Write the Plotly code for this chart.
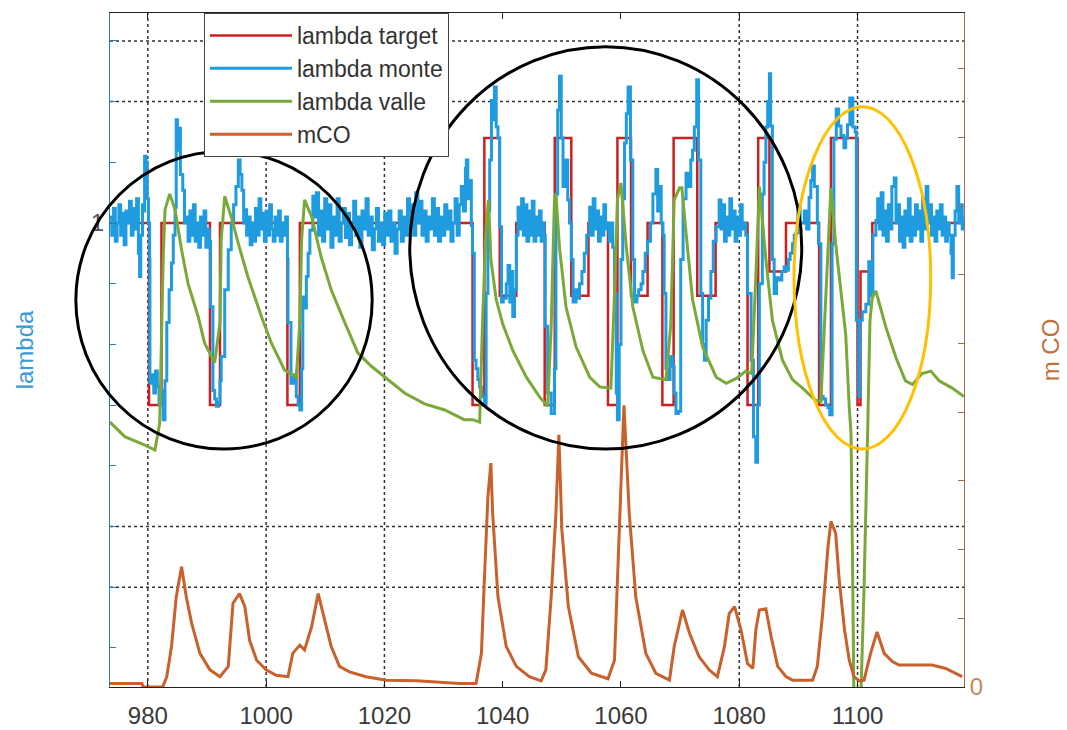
import plotly.graph_objects as go

# ---------------- data ----------------
target_x = [973.6, 980.2, 982.3, 990.5, 992.2, 1003.6, 1005.7, 1034.9, 1036.9, 1039.5, 1042.3,
            1047.1, 1048.8, 1051.6, 1054.5, 1057.8, 1059.4, 1061.7, 1064.5, 1067.0, 1068.9,
            1072.9, 1076.0, 1081.4, 1083.2, 1085.1, 1087.9, 1093.5, 1095.5, 1100.0, 1100.5,
            1102.5, 1118.0]
target_y = [1.0, 0.85, 1.0, 0.85, 1.0, 0.85, 1.0, 0.85, 1.07, 0.94, 1.0,
            0.85, 1.07, 0.94, 1.0, 0.85, 1.07, 0.94, 1.0, 0.85, 1.07,
            0.94, 1.0, 0.85, 1.07, 0.96, 1.0, 0.85, 1.07, 0.85, 0.96,
            1.0, 1.0]

monte_x = [973.6, 973.9, 974.2, 974.5, 974.8, 975.1, 975.4, 975.7, 976.0, 976.3, 976.6, 976.9,
           977.2, 977.5, 977.8, 978.1, 978.4, 978.6, 978.8, 979.1, 979.3, 979.45, 979.7, 979.9,
           980.1, 980.3, 980.35, 980.7, 981.0, 981.3, 981.6, 981.9, 982.2, 982.6, 982.9, 983.2,
           983.6, 984.0, 984.3, 984.6, 984.8, 985.0, 985.2, 985.5, 985.9, 986.2, 986.5, 986.8,
           987.1, 987.4, 987.7, 988.0, 988.3, 988.6, 988.9, 989.2, 989.5, 989.8, 990.1, 990.4,
           990.6, 991.0, 991.3, 991.6, 991.9, 992.2, 992.4, 993.0, 993.6, 994.1, 994.5, 994.9,
           995.3, 995.6, 995.9, 996.2, 996.4, 996.7, 997.0, 997.3, 997.6, 997.9, 998.2, 998.5,
           998.8, 999.1, 999.4, 999.7, 1000.0, 1000.3, 1000.6, 1000.9, 1001.2, 1001.5, 1001.8,
           1002.1, 1002.4, 1002.7, 1003.0, 1003.3, 1003.6, 1003.7, 1004.2, 1004.6, 1005.1,
           1005.4, 1005.7, 1006.0, 1006.2, 1006.5, 1006.8, 1007.1, 1007.4, 1007.9, 1008.2,
           1008.5, 1008.85, 1009.2, 1009.55, 1009.9, 1010.25, 1010.6, 1010.95, 1011.3, 1011.65,
           1012.0, 1012.35, 1012.7, 1013.05, 1013.4, 1013.75, 1014.1, 1014.45, 1014.8, 1015.15,
           1015.5, 1015.85, 1016.2, 1016.55, 1016.9, 1017.25, 1017.6, 1017.95, 1018.3, 1018.65,
           1019.0, 1019.35, 1019.7, 1020.05, 1020.4, 1020.75, 1021.1, 1021.45, 1021.8, 1022.15,
           1022.5, 1022.85, 1023.2, 1023.55, 1023.9, 1024.25, 1024.6, 1024.95, 1025.3, 1025.65,
           1026.0, 1026.35, 1026.7, 1027.05, 1027.4, 1027.75, 1028.1, 1028.45, 1028.8, 1029.15,
           1029.5, 1029.85, 1030.2, 1030.55, 1030.9, 1031.25, 1031.6, 1031.95, 1032.3, 1032.65,
           1033.0, 1033.35, 1033.7, 1033.85, 1034.1, 1034.4, 1034.7, 1034.9, 1035.2, 1035.5,
           1035.8, 1036.1, 1036.4, 1036.9, 1037.2, 1037.5, 1037.8, 1038.1, 1038.3, 1038.6,
           1038.9, 1039.2, 1039.5, 1039.8, 1040.1, 1040.6, 1040.9, 1041.2, 1041.4, 1041.7,
           1042.0, 1042.3, 1042.6, 1042.9, 1043.2, 1043.5, 1043.8, 1044.1, 1044.4, 1044.7,
           1045.0, 1045.3, 1045.6, 1045.9, 1046.2, 1046.5, 1046.8, 1047.0, 1047.2, 1047.6,
           1048.2, 1048.75, 1049.0, 1049.3, 1049.6, 1049.9, 1050.2, 1050.5, 1050.7, 1051.0,
           1051.3, 1051.6, 1051.9, 1052.4, 1052.7, 1053.0, 1053.4, 1053.8, 1054.2, 1054.7,
           1055.0, 1055.3, 1055.6, 1055.9, 1056.2, 1056.5, 1056.8, 1057.1, 1057.4, 1057.7,
           1058.0, 1058.3, 1058.6, 1058.9, 1059.2, 1059.4, 1059.7, 1060.0, 1060.3, 1060.6,
           1060.9, 1061.2, 1061.6, 1062.0, 1062.3, 1062.7, 1063.0, 1063.4, 1063.7, 1064.1,
           1064.5, 1065.0, 1065.4, 1065.9, 1066.2, 1066.5, 1066.8, 1067.1, 1067.3, 1067.6,
           1067.9, 1068.3, 1068.7, 1069.0, 1069.3, 1069.7, 1070.1, 1070.5, 1071.0, 1071.4,
           1071.8, 1072.1, 1072.4, 1072.8, 1073.1, 1073.5, 1073.8, 1074.1, 1074.4, 1074.8,
           1075.2, 1075.6, 1076.1, 1076.6, 1076.9, 1077.2, 1077.5, 1077.8, 1078.1, 1078.4,
           1078.7, 1079.0, 1079.3, 1079.6, 1079.9, 1080.2, 1080.5, 1080.8, 1081.1, 1081.4,
           1082.0, 1082.4, 1082.8, 1083.1, 1083.4, 1083.9, 1084.2, 1084.5, 1084.8, 1085.1,
           1085.3, 1085.6, 1085.9, 1086.3, 1086.8, 1087.2, 1087.6, 1087.9, 1088.3, 1088.6,
           1089.0, 1089.3, 1089.6, 1089.9, 1090.3, 1090.7, 1091.0, 1091.4, 1091.8, 1092.1,
           1092.4, 1092.7, 1092.9, 1093.2, 1093.4, 1093.8, 1094.2, 1094.6, 1095.0, 1095.3,
           1095.7, 1096.0, 1096.4, 1096.8, 1097.2, 1097.7, 1098.0, 1098.3, 1098.7, 1099.2,
           1099.6, 1099.8, 1100.2, 1100.4, 1100.8, 1101.4, 1101.9, 1102.2, 1102.6, 1103.1,
           1103.4, 1103.7, 1104.0, 1104.3, 1104.6, 1104.9, 1105.2, 1105.5, 1105.8, 1106.2,
           1106.5, 1106.8, 1107.1, 1107.4, 1107.7, 1108.0, 1108.3, 1108.6, 1108.9, 1109.2,
           1109.5, 1109.8, 1110.1, 1110.4, 1110.7, 1111.0, 1111.3, 1111.6, 1111.9, 1112.2,
           1112.5, 1112.8, 1113.1, 1113.4, 1113.7, 1114.0, 1114.3, 1114.6, 1114.9, 1115.2,
           1115.5, 1115.8, 1116.0, 1116.2, 1116.5, 1116.8, 1117.1, 1117.4, 1117.7, 1118.0]
monte_y = [1.005, 0.99, 1.012, 0.985, 1.0, 1.015, 0.99, 1.008, 0.982, 1.01, 1.0, 1.018,
           0.99, 1.012, 0.995, 1.02, 0.975, 0.956, 0.99, 1.015, 1.01, 1.055, 1.05, 1.02,
           1.0, 0.97, 0.868, 0.875, 0.86, 0.878, 0.865, 0.85, 0.862, 0.838, 0.87, 0.918,
           0.945, 0.967, 0.99, 1.013, 1.085, 1.06, 1.078, 1.04, 1.027, 1.0, 1.005, 0.985,
           1.01, 0.99, 1.015, 0.985, 1.0, 0.98, 1.005, 0.99, 1.01, 0.98, 0.995, 0.985,
           0.931, 0.862, 0.855, 0.849, 0.852, 0.87, 0.89, 0.945, 0.978, 1.0, 1.015, 1.03,
           1.052, 1.04, 1.027, 1.0, 1.011, 0.99, 1.005, 0.982, 1.0, 0.985, 1.012, 0.99,
           1.02, 0.995, 1.008, 0.985, 1.01, 0.99, 1.015, 0.995, 0.985, 1.005, 0.99,
           1.01, 0.985, 1.0, 0.99, 1.005, 0.97, 0.918, 0.868, 0.875, 0.857,
           0.85, 0.846, 0.88, 0.939, 0.93, 0.956, 0.975, 0.994, 1.022, 1.005,
           1.025, 0.99, 1.01, 0.985, 1.02, 0.995, 1.015, 0.98, 1.005, 0.99,
           1.02, 0.985, 1.0, 1.012, 0.988, 1.008, 0.982, 1.0, 1.018, 0.99,
           1.005, 0.98, 1.01, 0.995, 1.02, 0.99, 1.005, 0.978, 0.995, 1.012,
           0.985, 1.0, 0.982, 1.008, 0.99, 1.01, 0.985, 1.0, 0.975, 0.995,
           1.01, 0.985, 1.005, 0.99, 1.02, 0.995, 1.015, 0.99, 1.025, 1.0,
           1.018, 0.99, 1.01, 0.985, 1.005, 0.995, 1.02, 0.99, 1.012, 0.985,
           1.005, 0.99, 1.015, 0.995, 1.01, 0.985, 1.0, 1.02, 0.99, 1.015,
           1.03, 1.01, 1.045, 1.052, 1.02, 1.035, 0.998, 0.975, 0.887, 0.88,
           0.871, 0.865, 0.857, 0.851, 0.942, 1.01, 1.052, 1.101, 1.085, 1.112,
           1.079, 1.07, 0.997, 0.935, 0.938, 0.95, 0.965, 0.935, 0.96, 0.923,
           0.945, 0.99, 1.013, 0.995, 1.02, 0.99, 1.015, 0.985, 1.01, 0.99,
           1.018, 0.985, 1.005, 0.99, 1.01, 0.985, 1.0, 0.99, 0.915, 0.86,
           0.843, 0.88, 1.024, 1.093, 1.121, 1.07, 1.03, 1.045, 1.052, 1.019,
           1.0, 0.97, 0.935, 0.945, 0.938, 0.95, 0.96, 0.975, 0.99, 1.013,
           0.99, 1.02, 0.995, 1.01, 0.985, 1.005, 0.99, 1.015, 0.995, 1.0,
           0.985, 1.0, 0.98, 0.942, 0.86, 0.838, 0.9, 0.97, 1.02, 1.066,
           1.09, 1.112, 1.052, 0.97, 0.935, 0.94, 0.945, 0.95, 0.96, 0.975,
           0.985, 1.0, 1.024, 1.044, 1.01, 1.03, 1.0, 0.99, 0.942, 0.88,
           0.871, 0.89, 0.882, 0.86, 0.843, 0.845, 0.97, 1.02, 1.041, 1.03,
           1.052, 1.06, 1.079, 1.118, 1.052, 0.942, 0.9, 0.887, 0.92, 0.938,
           0.96, 0.985, 0.997, 1.019, 0.995, 1.015, 0.985, 1.005, 0.99, 1.02,
           0.995, 1.01, 0.985, 1.005, 0.99, 1.015, 0.995, 1.0, 0.99, 0.942,
           0.887, 0.824, 0.803, 0.85, 0.95, 1.024, 1.05, 1.079, 1.1, 1.123,
           1.08, 0.97, 0.942, 0.955, 0.953, 0.96, 0.964, 0.961, 0.97, 0.975,
           0.983, 0.99, 0.992, 1.015, 1.0, 1.0, 1.01, 0.995, 1.021, 1.035,
           1.047, 1.03, 1.03, 1.0, 0.983, 0.857, 0.855, 0.85, 0.848, 0.842,
           0.983, 1.069, 1.094, 1.08, 1.072, 1.062, 1.07, 1.081, 1.103, 1.079,
           1.075, 0.92, 0.857, 0.92, 0.927, 0.933, 0.968, 0.94, 0.99, 1.002,
           1.02, 0.995, 1.025, 0.99, 1.01, 0.985, 1.015, 0.995, 1.03, 1.037,
           1.0, 1.015, 0.985, 1.005, 0.98, 1.01, 0.99, 1.02, 0.985, 1.005,
           0.99, 1.015, 0.995, 1.01, 0.985, 1.02, 0.995, 1.03, 1.0, 1.015,
           0.99, 1.005, 0.985, 1.01, 0.995, 1.015, 0.99, 1.005, 0.985, 1.0,
           0.99, 0.975, 0.955, 0.99, 1.01, 1.03, 1.0, 1.015, 0.995, 1.005]

valle_x = [973.6, 976.1, 979.5, 981.2, 982.0, 982.3, 982.6, 982.9, 983.7, 984.6, 985.7, 986.8,
           988.5, 989.6, 991.3, 992.2, 992.4, 993.0, 994.1, 995.3, 996.9, 999.2, 1000.9, 1003.1,
           1005.1, 1005.7, 1006.0, 1006.5, 1007.7, 1009.3, 1011.0, 1013.3, 1015.5, 1017.8,
           1020.6, 1023.4, 1026.8, 1030.2, 1033.5, 1034.95, 1036.1, 1036.6, 1037.2, 1037.6,
           1038.0, 1038.9, 1040.0, 1041.7, 1044.0, 1046.2, 1047.6, 1048.2, 1048.75, 1049.0,
           1049.6, 1050.7, 1052.4, 1054.7, 1056.4, 1058.3, 1058.9, 1059.4, 1060.0, 1060.9,
           1062.0, 1063.7, 1065.4, 1067.6, 1068.4, 1069.0, 1069.9, 1070.3, 1071.0, 1072.1,
           1073.8, 1076.1, 1077.8, 1079.5, 1081.1, 1082.1, 1082.8, 1083.4, 1084.5, 1085.6,
           1087.3, 1089.0, 1090.7, 1092.9, 1093.8, 1094.4, 1095.0, 1095.5, 1096.3, 1097.2,
           1098.0, 1098.6, 1098.9, 1099.2, 1099.4, 1100.5, 1101.1, 1101.7, 1102.1, 1102.5,
           1103.1, 1104.8, 1106.5, 1108.1, 1109.3, 1110.9, 1112.4, 1113.8, 1116.0, 1118.0]
valle_y = [0.836, 0.824, 0.817, 0.813, 0.835, 0.918, 0.972, 1.011, 1.024, 1.011, 0.978, 0.95,
           0.923, 0.901, 0.885, 0.918, 0.986, 1.022, 1.005, 0.983, 0.956, 0.923, 0.901, 0.879,
           0.873, 0.918, 0.986, 1.019, 1.005, 0.972, 0.945, 0.918, 0.893, 0.882,
           0.871, 0.86, 0.851, 0.846, 0.838, 0.838, 0.836, 0.92, 0.997, 1.019,
           0.97, 0.937, 0.917, 0.895, 0.873, 0.857, 0.849, 0.915, 1.019, 1.024,
           0.98, 0.931, 0.898, 0.873, 0.865, 0.864, 0.942, 1.019, 1.033, 0.98,
           0.931, 0.895, 0.873, 0.871, 0.915, 1.019, 1.029, 1.029, 0.992, 0.937,
           0.898, 0.873, 0.868, 0.872, 0.878, 0.876, 0.956, 1.03, 0.97, 0.92,
           0.887, 0.871, 0.864, 0.854, 0.853, 0.92, 0.983, 1.029, 0.983, 0.946,
           0.908, 0.848, 0.826, 0.70, 0.60, 0.60, 0.70, 0.826, 0.92, 0.939,
           0.944, 0.914, 0.889, 0.87, 0.867, 0.876, 0.878, 0.87, 0.864, 0.857]

mco_x = [973.6, 979.0, 979.2, 982.5, 983.2, 984.0, 984.8, 985.7, 986.5, 987.4, 988.8, 990.5,
         992.2, 993.6, 994.4, 995.5, 996.4, 997.2, 998.4, 1000.0, 1001.7, 1003.7, 1004.5,
         1005.7, 1006.5, 1007.7, 1008.8, 1009.9, 1011.0, 1012.4, 1014.1, 1016.9, 1020.3,
         1025.4, 1032.7, 1035.5, 1036.4, 1036.9, 1037.5, 1038.0, 1038.3, 1039.2, 1040.6,
         1042.3, 1044.5, 1046.5, 1047.3, 1048.2, 1049.0, 1049.5, 1050.0, 1051.1, 1052.8,
         1055.0, 1057.8, 1058.9, 1059.4, 1060.0, 1060.5, 1061.4, 1062.5, 1064.2, 1065.9,
         1068.2, 1069.0, 1070.4, 1071.6, 1073.2, 1074.9, 1076.3, 1077.5, 1078.3, 1079.2,
         1080.3, 1081.4, 1082.3, 1082.8, 1083.4, 1084.5, 1085.4, 1086.5, 1087.9, 1089.0,
         1092.4, 1093.2, 1094.1, 1095.0, 1095.5, 1096.3, 1096.9, 1097.8, 1098.6, 1099.4,
         1100.3, 1101.1, 1102.2, 1103.3, 1104.5, 1105.9, 1107.0, 1112.6, 1114.9, 1117.7]
mco_y = [0.05, 0.05, 0.0, 0.0, 0.15, 0.59, 1.31, 1.75, 1.31, 0.93, 0.49, 0.25,
         0.15, 0.30, 1.22, 1.36, 1.17, 0.68, 0.39, 0.25, 0.17, 0.15, 0.49,
         0.61, 0.54, 0.88, 1.36, 0.98, 0.59, 0.30, 0.22, 0.15, 0.10,
         0.09, 0.05, 0.05, 0.49, 1.56, 2.77, 3.26, 2.53, 1.31, 0.59,
         0.30, 0.15, 0.09, 0.25, 1.31, 2.53, 3.67, 2.29, 1.17, 0.44,
         0.20, 0.12, 0.39, 1.56, 3.01, 4.10, 2.53, 1.31, 0.49, 0.20,
         0.10, 0.59, 1.12, 0.78, 0.44, 0.25, 0.15, 0.59, 1.07, 1.17,
         0.83, 0.34, 0.27, 0.83, 1.12, 1.14, 0.73, 0.30, 0.15, 0.10,
         0.10, 0.30, 1.07, 2.04, 2.41, 2.24, 1.56, 0.83, 0.39, 0.15,
         0.09, 0.10, 0.49, 0.80, 0.49, 0.37, 0.32, 0.32, 0.27, 0.15]

x_ticks = [980, 1000, 1020, 1040, 1060, 1080, 1100]
lambda_ticks = [0.65, 0.70, 0.75, 0.80, 0.85, 0.90, 0.95, 1.00, 1.05, 1.10, 1.15]
lambda_ticktext = ["", "", "", "", "", "", "", "1", "", "", ""]
mco_ticks = [0, 1, 2, 3, 4, 5, 6, 7, 8, 9]
mco_ticktext = ["0", "", "", "", "", "", "", "", "", ""]
grid_x = [980, 1000, 1020, 1080, 1100]
grid_lambda = [0.70, 0.75, 1.10, 1.15]

# highlight ellipses (paper coordinates): x0, x1, y0, y1, colour
highlights = [(-0.040, 0.307, 0.353, 0.795, "#000000"),
              (0.351, 0.810, 0.353, 0.950, "#000000"),
              (0.801, 0.961, 0.353, 0.861, "#ffc000")]

RED, BLUE, GREEN, ORANGE = "#cc1f1f", "#1f9be0", "#7aa93a", "#c8612c"
FONT = "Liberation Sans, Arial, sans-serif"

fig = go.Figure()
fig.add_trace(go.Scatter(x=target_x, y=target_y, name="lambda target", mode="lines",
                         line=dict(color=RED, width=2.5, shape="hv")))
fig.add_trace(go.Scatter(x=monte_x, y=monte_y, name="lambda monte", mode="lines",
                         line=dict(color=BLUE, width=3, shape="hv")))
fig.add_trace(go.Scatter(x=valle_x, y=valle_y, name="lambda valle", mode="lines",
                         line=dict(color=GREEN, width=3)))
fig.add_trace(go.Scatter(x=mco_x, y=mco_y, name="mCO", mode="lines", yaxis="y2",
                         line=dict(color=ORANGE, width=3)))

shapes = []
for gx in grid_x:
    shapes.append(dict(type="line", xref="x", yref="paper", x0=gx, x1=gx, y0=0, y1=1,
                       line=dict(color="#333333", width=1.5, dash="dot"), layer="below"))
for gy in grid_lambda:
    shapes.append(dict(type="line", xref="paper", yref="y", x0=0, x1=1, y0=gy, y1=gy,
                       line=dict(color="#333333", width=1.5, dash="dot"), layer="below"))
for x0, x1, y0, y1, col in highlights:
    shapes.append(dict(type="circle", xref="paper", yref="paper", x0=x0, x1=x1, y0=y0, y1=y1,
                       line=dict(color=col, width=3), layer="above"))

fig.update_layout(
    width=1067, height=730,
    margin=dict(l=110, r=103, t=13, b=43, autoexpand=False),
    paper_bgcolor="white", plot_bgcolor="white",
    font=dict(family=FONT, size=22, color="#3a3a3a"),
    showlegend=True,
    legend=dict(x=0.110, y=1.0, xanchor="left", yanchor="top",
                bgcolor="white", bordercolor="#444444", borderwidth=1,
                font=dict(family=FONT, size=23, color="#333333"),
                itemwidth=82, tracegroupgap=0),
    xaxis=dict(range=[973.6, 1118.0], tickvals=x_ticks, showgrid=False, zeroline=False,
               ticks="inside", ticklen=6, tickcolor="#222222", showline=True,
               linecolor="#222222", linewidth=1, mirror="ticks", automargin=False,
               ticklabelstandoff=7,
               tickfont=dict(size=24, color="#3a3a3a")),
    yaxis=dict(range=[0.6178, 1.173], tickvals=lambda_ticks, ticktext=lambda_ticktext,
               showgrid=False, zeroline=False, ticks="inside", ticklen=6, automargin=False,
               tickcolor="#2f78b0", showline=True, linecolor="#2f78b0", linewidth=1,
               tickfont=dict(size=24, color="#555555"),
               title=dict(text="lambda", font=dict(size=24, color="#3a9ad9"), standoff=50)),
    yaxis2=dict(range=[0, 9.81], tickvals=mco_ticks, ticktext=mco_ticktext,
                overlaying="y", side="right", showgrid=False, zeroline=False, automargin=False,
                ticks="inside", ticklen=6, tickcolor="#a8694a", showline=True,
                linecolor="#a8694a", linewidth=1,
                tickfont=dict(size=24, color="#c8875a"),
                title=dict(text="m CO", font=dict(size=24, color="#c0703a"), standoff=60)),
    shapes=shapes,
)

fig.write_html("out.html")
